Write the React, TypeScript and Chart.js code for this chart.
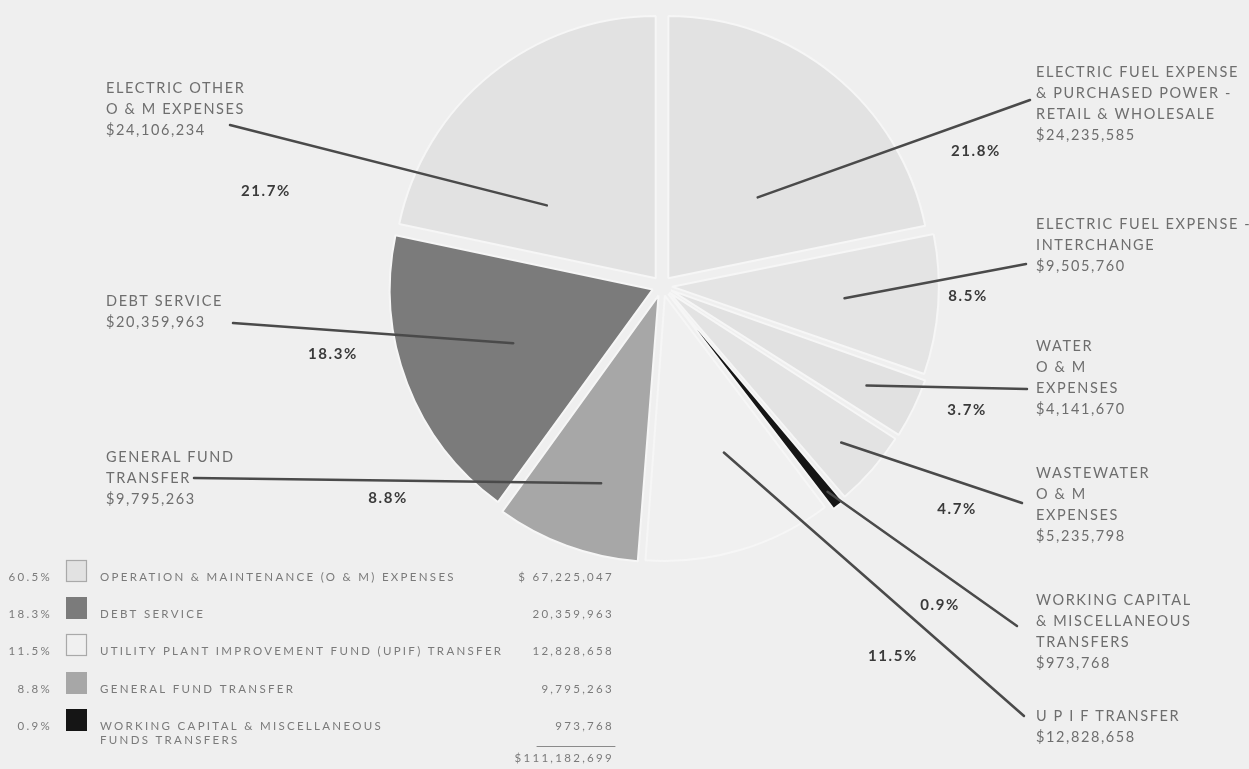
import React, { useEffect, useRef } from "react";
import { Chart, PieController, ArcElement } from "chart.js";

Chart.register(PieController, ArcElement);

// Utility expenditures, slices listed clockwise from 12 o'clock
const sliceValues = [
  24235585, // electric fuel expense & purchased power
  9505760, // electric fuel expense - interchange
  4141670, // water O & M
  5235798, // wastewater O & M
  973768, // working capital & misc. transfers
  12828658, // U.P.I.F. transfer
  9795263, // general fund transfer
  20359963, // debt service
  24106234, // electric other O & M
];

const sliceLabelLines: string[][] = [
  ["ELECTRIC FUEL EXPENSE", "& PURCHASED POWER -", "RETAIL & WHOLESALE"],
  ["ELECTRIC FUEL EXPENSE -", "INTERCHANGE"],
  ["WATER", "O & M", "EXPENSES"],
  ["WASTEWATER", "O & M", "EXPENSES"],
  ["WORKING CAPITAL", "& MISCELLANEOUS", "TRANSFERS"],
  ["U P I F TRANSFER"],
  ["GENERAL FUND", "TRANSFER"],
  ["DEBT SERVICE"],
  ["ELECTRIC OTHER", "O & M EXPENSES"],
];

const sliceColors = [
  "#e2e2e2",
  "#e4e4e4",
  "#e1e1e1",
  "#e3e3e3",
  "#151515",
  "#f0f0f0",
  "#a7a7a7",
  "#7b7b7b",
  "#e2e2e2",
];

// Summary table: groups of slices
const legendLabels: string[][] = [
  ["OPERATION & MAINTENANCE (O & M) EXPENSES"],
  ["DEBT SERVICE"],
  ["UTILITY PLANT IMPROVEMENT FUND (UPIF) TRANSFER"],
  ["GENERAL FUND TRANSFER"],
  ["WORKING CAPITAL & MISCELLANEOUS", "FUNDS TRANSFERS"],
];
const legendMembers: number[][] = [[0, 1, 2, 3, 8], [7], [5], [6], [4]];

// Placement of callouts: anchor inside the slice (t = fraction of the
// slice's angle, r = fraction of its radius), leader end, text, percent
const calloutLayout = [
  { t: 0.61, r: 0.46, ex: 1030, ey: 100, tx: 1036, ty: 72, px: 976, py: 151 },
  { t: 0.5, r: 0.66, ex: 1026, ey: 264, tx: 1036, ty: 224, px: 968, py: 296 },
  { t: 0.5, r: 0.83, ex: 1027, ey: 389, tx: 1036, ty: 346, px: 967, py: 410 },
  { t: 0.5, r: 0.87, ex: 1022, ey: 503, tx: 1036, ty: 473, px: 957, py: 509 },
  { t: 0.5, r: 0.97, ex: 1017, ey: 626, tx: 1036, ty: 600, px: 940, py: 605 },
  { t: 0.4, r: 0.64, ex: 1024, ey: 716, tx: 1036, ty: 716, px: 893, py: 656 },
  { t: 0.4, r: 0.75, ex: 194, ey: 478, tx: 106, ty: 457, px: 388, py: 498 },
  { t: 0.5, r: 0.57, ex: 233, ey: 323, tx: 106, ty: 301, px: 333, py: 354 },
  { t: 0.28, r: 0.5, ex: 230, ey: 125, tx: 106, ty: 88, px: 266, py: 191 },
];

const total = sliceValues.reduce((a, b) => a + b, 0);
const money = (v: number) => v.toLocaleString("en-US");
const pct = (v: number) => ((v / total) * 100).toFixed(1) + "%";

const BG = "#efefef";
const LABEL_FONT = "14.5px Lato";
const PCT_FONT = "bold 15px Lato";
const TABLE_FONT = "11.5px Lato";

const annotate = {
  id: "annotate",
  beforeDraw(chart: any) {
    const ctx = chart.ctx as CanvasRenderingContext2D;
    ctx.save();
    ctx.fillStyle = BG;
    ctx.fillRect(0, 0, chart.width, chart.height);
    ctx.restore();
  },
  afterDatasetsDraw(chart: any) {
    const ctx = chart.ctx as CanvasRenderingContext2D;
    const meta = chart.getDatasetMeta(0);
    ctx.save();
    meta.data.forEach((el: any, i: number) => {
      const { x, y, startAngle, endAngle, outerRadius } = el.getProps(
        ["x", "y", "startAngle", "endAngle", "outerRadius"],
        true
      );
      const L = calloutLayout[i];
      const mid = (startAngle + endAngle) / 2;
      const shift = (el.options.offset || 0) / 4;
      const a = startAngle + (endAngle - startAngle) * L.t;
      const ax = x + Math.cos(mid) * shift + Math.cos(a) * outerRadius * L.r;
      const ay = y + Math.sin(mid) * shift + Math.sin(a) * outerRadius * L.r;

      // leader line
      ctx.strokeStyle = "#4a4a4a";
      ctx.lineWidth = 2.5;
      ctx.lineCap = "round";
      ctx.beginPath();
      ctx.moveTo(ax, ay);
      ctx.lineTo(L.ex, L.ey);
      ctx.stroke();

      // name and amount
      ctx.font = LABEL_FONT;
      (ctx as any).letterSpacing = "1.6px";
      ctx.fillStyle = "#6e6e6e";
      ctx.textAlign = "left";
      ctx.textBaseline = "middle";
      const lines = [...sliceLabelLines[i], "$" + money(sliceValues[i])];
      lines.forEach((s, k) => ctx.fillText(s, L.tx, L.ty + k * 21));

      // share of total
      ctx.font = PCT_FONT;
      (ctx as any).letterSpacing = "1.6px";
      ctx.fillStyle = "#3a3a3a";
      ctx.textAlign = "center";
      ctx.fillText(pct(sliceValues[i]), L.px, L.py);
    });

    // summary table
    const rowY = [577, 614, 651, 689, 726];
    ctx.font = TABLE_FONT;
    (ctx as any).letterSpacing = "2.3px";
    ctx.textBaseline = "middle";
    legendMembers.forEach((members, r) => {
      const sum = members.reduce((s, k) => s + sliceValues[k], 0);
      const y = rowY[r];
      ctx.fillStyle = "#7a7a7a";
      ctx.textAlign = "right";
      ctx.fillText(pct(sum), 52, y);
      const col = sliceColors[members[0]];
      ctx.fillStyle = col;
      ctx.fillRect(66, y - 17, 21, 22);
      if (members.length > 1 || members[0] === 5) {
        ctx.strokeStyle = "#a9a9a9";
        ctx.lineWidth = 1.2;
        ctx.strokeRect(66.5, y - 16.5, 20, 21);
      }
      ctx.fillStyle = "#7a7a7a";
      ctx.textAlign = "left";
      legendLabels[r].forEach((s, k) => ctx.fillText(s, 100, y + k * 14));
      ctx.textAlign = "right";
      ctx.fillText((r === 0 ? "$ " : "") + money(sum), 614, y);
    });
    ctx.strokeStyle = "#8a8a8a";
    ctx.lineWidth = 1;
    ctx.beginPath();
    ctx.moveTo(537, 746.5);
    ctx.lineTo(615, 746.5);
    ctx.stroke();
    ctx.fillStyle = "#7a7a7a";
    ctx.textAlign = "right";
    ctx.fillText("$" + money(total), 614, 758);
    ctx.restore();
  },
};

export default function App() {
  const ref = useRef<HTMLCanvasElement | null>(null);
  useEffect(() => {
    if (!ref.current) return;
    const chart = new Chart(ref.current, {
      type: "pie",
      data: {
        labels: sliceLabelLines.map((l) => l.join(" ")),
        datasets: [
          {
            data: sliceValues,
            backgroundColor: sliceColors,
            borderColor: "#f6f6f6",
            borderWidth: 2,
            offset: 40,
          },
        ],
      },
      options: {
        responsive: false,
        animation: false,
        devicePixelRatio: 1,
        radius: 262,
        layout: { padding: { left: 75, right: 0, top: 0, bottom: 197 } },
        plugins: { legend: { display: false }, tooltip: { enabled: false } },
        events: [],
      },
      plugins: [annotate],
    } as any);
    return () => chart.destroy();
  }, []);
  return (
    <div style={{ position: "fixed", left: 0, top: 0, width: 1249, height: 769, background: BG }}>
      <canvas ref={ref} width={1249} height={769} style={{ display: "block" }} />
    </div>
  );
}
